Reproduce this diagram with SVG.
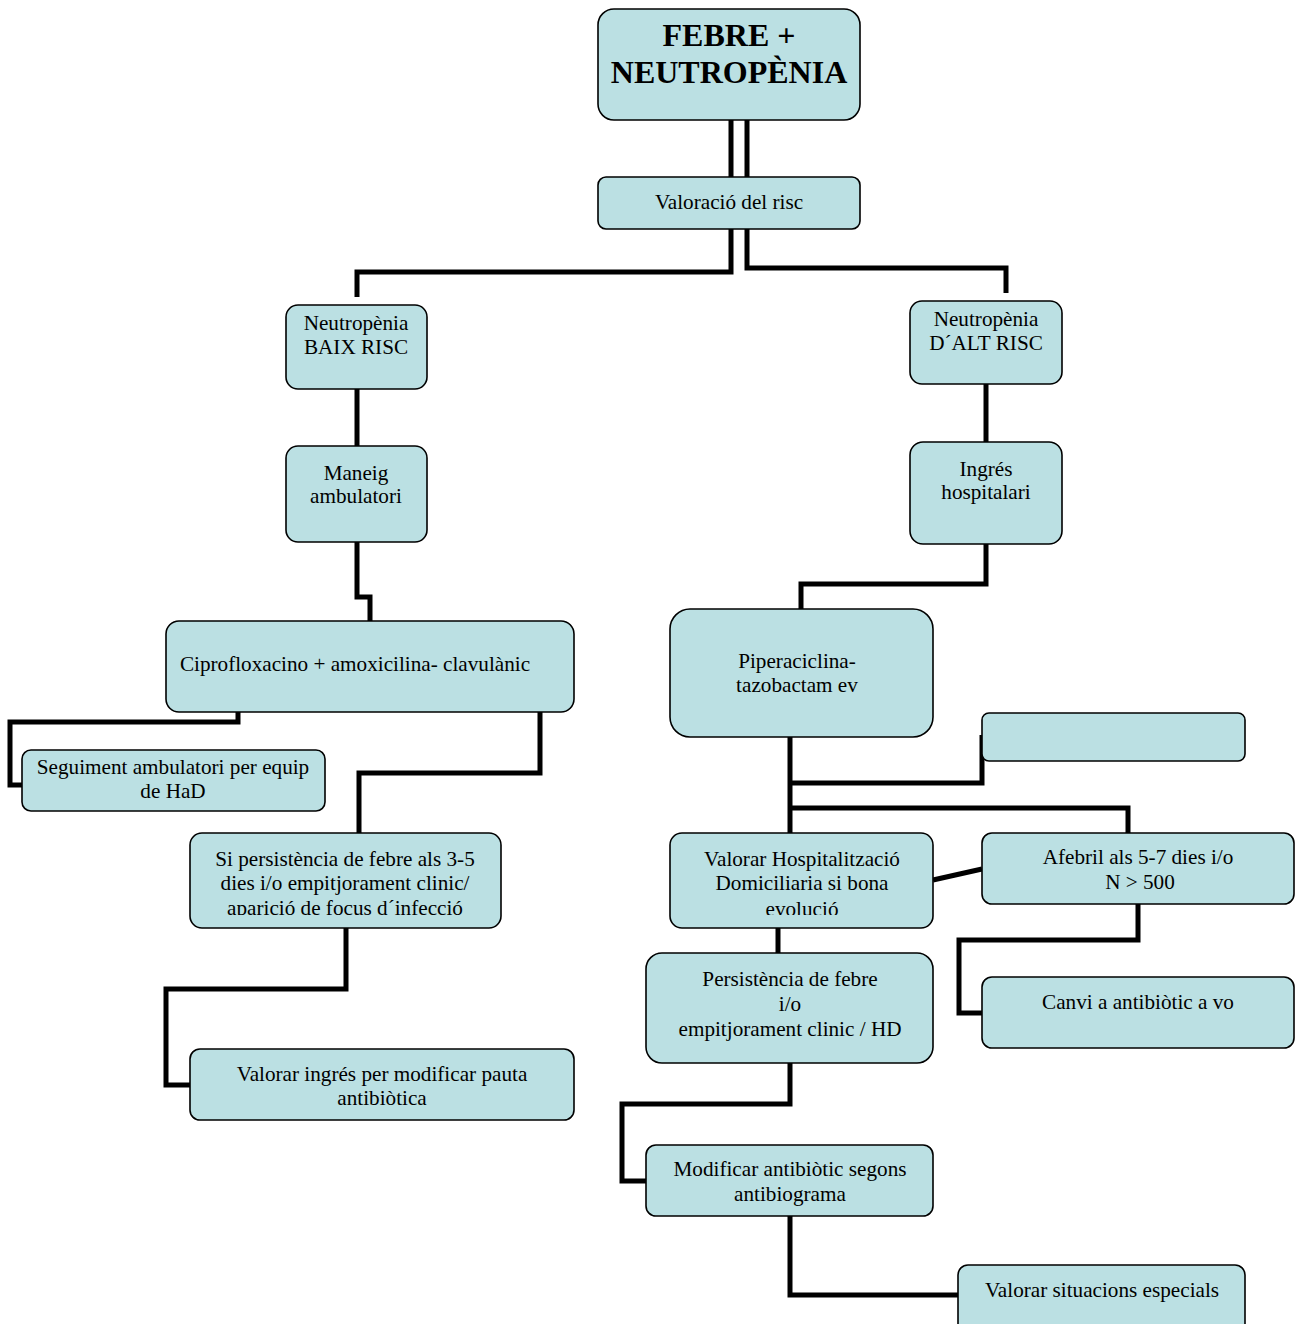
<svg xmlns="http://www.w3.org/2000/svg" width="1295" height="1324" viewBox="0 0 1295 1324">
<style>
.box{fill:#bbe0e3;stroke:#000;stroke-width:1.6}
.t{font-family:"Liberation Serif","Times New Roman",serif;font-size:21.2px;fill:#000;text-anchor:middle}
.title{font-family:"Liberation Serif","Times New Roman",serif;font-size:32px;font-weight:bold;fill:#000;text-anchor:middle}
.c{fill:none;stroke:#000;stroke-width:5;stroke-linejoin:miter}
</style>
<defs>
<clipPath id="clip7"><rect x="190" y="833" width="312" height="82"/></clipPath>
<clipPath id="clip13"><rect x="670" y="833" width="264" height="82"/></clipPath>
</defs>
<rect width="1295" height="1324" fill="#fff"/>
<g id="connectors">
<path class="c" d="M731 120V177M747 120V177"/>
<path class="c" d="M731 229V272H357V297"/>
<path class="c" d="M747 229V268H1006V293"/>
<path class="c" d="M357 389V446"/>
<path class="c" d="M357 542V597H370V621"/>
<path class="c" d="M238 712V722H10V785H22"/>
<path class="c" d="M540 712V773H359V833"/>
<path class="c" d="M346 928V989H166V1085H190"/>
<path class="c" d="M986 384V442"/>
<path class="c" d="M986 544V584H801V609"/>
<path class="c" d="M790 737V833"/>
<path class="c" d="M790 783H982V735"/>
<path class="c" d="M790 808H1128V833"/>
<path class="c" d="M933 880L982 869"/>
<path class="c" d="M778 928V953"/>
<path class="c" d="M1138 904V940H959V1013H982"/>
<path class="c" d="M790 1063V1104H622V1181H646"/>
<path class="c" d="M790 1216V1295H958"/>
</g>
<g id="n1"><rect class="box" x="598" y="9" width="262" height="111" rx="16"/>
<text class="title" x="729" y="46">FEBRE +</text><text class="title" x="729" y="83">NEUTROPÈNIA</text></g>
<g id="n2"><rect class="box" x="598" y="177" width="262" height="52" rx="8"/>
<text class="t" x="729" y="209">Valoració del risc</text></g>
<g id="n3"><rect class="box" x="286" y="305" width="141" height="84" rx="12"/>
<text class="t" x="356" y="330">Neutropènia</text><text class="t" x="356" y="354">BAIX RISC</text></g>
<g id="n4"><rect class="box" x="286" y="446" width="141" height="96" rx="12"/>
<text class="t" x="356" y="480">Maneig</text><text class="t" x="356" y="503">ambulatori</text></g>
<g id="n5"><rect class="box" x="166" y="621" width="408" height="91" rx="13"/>
<text class="t" x="355" y="671">Ciprofloxacino + amoxicilina- clavulànic</text></g>
<g id="n6"><rect class="box" x="22" y="750" width="303" height="61" rx="9"/>
<text class="t" x="173" y="774">Seguiment ambulatori  per equip</text><text class="t" x="173" y="798">de HaD</text></g>
<g id="n7"><rect class="box" x="190" y="833" width="311" height="95" rx="12"/>
<g clip-path="url(#clip7)"><text class="t" x="345" y="866">Si persistència de febre als 3-5</text><text class="t" x="345" y="890">dies i/o empitjorament clinic/</text><text class="t" x="345" y="915">aparició de focus d´infecció</text></g></g>
<g id="n8"><rect class="box" x="190" y="1049" width="384" height="71" rx="10"/>
<text class="t" x="382" y="1081">Valorar ingrés per modificar pauta</text><text class="t" x="382" y="1105">antibiòtica</text></g>
<g id="n9"><rect class="box" x="910" y="301" width="152" height="83" rx="12"/>
<text class="t" x="986" y="326">Neutropènia</text><text class="t" x="986" y="350">D´ALT RISC</text></g>
<g id="n10"><rect class="box" x="910" y="442" width="152" height="102" rx="13"/>
<text class="t" x="986" y="476">Ingrés</text><text class="t" x="986" y="499">hospitalari</text></g>
<g id="n11"><rect class="box" x="670" y="609" width="263" height="128" rx="20"/>
<text class="t" x="797" y="668">Piperaciclina-</text><text class="t" x="797" y="692">tazobactam ev</text></g>
<g id="n12"><rect class="box" x="982" y="713" width="263" height="48" rx="7"/></g>
<g id="n13"><rect class="box" x="670" y="833" width="263" height="95" rx="12"/>
<g clip-path="url(#clip13)"><text class="t" x="802" y="866">Valorar Hospitalització</text><text class="t" x="802" y="890">Domiciliaria si bona</text><text class="t" x="802" y="916">evolució</text></g></g>
<g id="n14"><rect class="box" x="982" y="833" width="312" height="71" rx="10"/>
<text class="t" x="1138" y="864">Afebril als 5-7 dies i/o</text><text class="t" x="1140" y="889">N &gt; 500</text></g>
<g id="n15"><rect class="box" x="646" y="953" width="287" height="110" rx="16"/>
<text class="t" x="790" y="986">Persistència de febre</text><text class="t" x="790" y="1011">i/o</text><text class="t" x="790" y="1036">empitjorament clinic / HD</text></g>
<g id="n16"><rect class="box" x="982" y="977" width="312" height="71" rx="10"/>
<text class="t" x="1138" y="1009">Canvi a antibiòtic a vo</text></g>
<g id="n17"><rect class="box" x="646" y="1145" width="287" height="71" rx="10"/>
<text class="t" x="790" y="1176">Modificar antibiòtic segons</text><text class="t" x="790" y="1201">antibiograma</text></g>
<g id="n18"><rect class="box" x="958" y="1265" width="287" height="70" rx="10"/>
<text class="t" x="1102" y="1297">Valorar situacions especials</text></g>
</svg>
